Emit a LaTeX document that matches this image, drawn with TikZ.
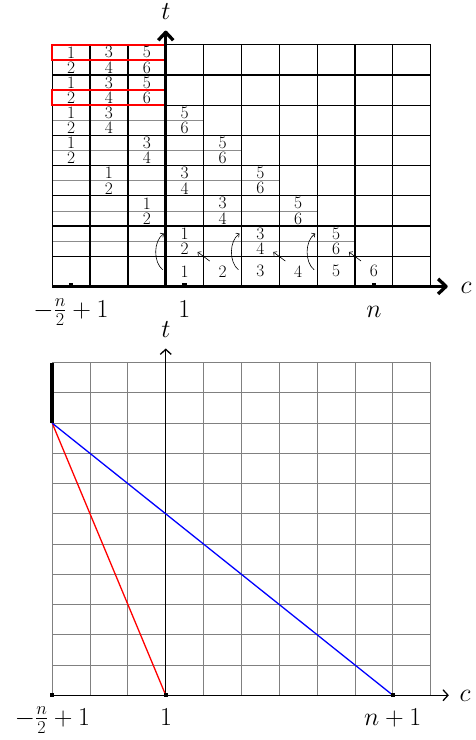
\RequirePackage{fix-cm}
\documentclass[tikz,border=0pt]{standalone}
\usetikzlibrary{arrows.meta}
\tikzset{
  gridline/.style={line width=1.2bp, black},
  midline/.style={line width=0.8bp, black!45},
  redbox/.style={draw=red, line width=1.5bp},
  cell/.style={inner sep=0pt, font=\fontsize{17.5}{20}\selectfont},
  lab/.style={inner sep=0pt, font=\fontsize{26}{30}\selectfont},
  thickaxis/.style={line width=3.3bp, line join=round, -{Straight Barb[length=8bp,width=15bp,line join=round]}},
  thinaxis/.style={line width=1.3bp, -{Straight Barb[length=5bp,width=11bp]}},
  tickmark/.style={fill=black, inner sep=0pt, minimum size=4.5bp},
  smallarrow/.style={line width=0.6bp, -{Straight Barb[length=2.5bp,width=5bp]}},
  lgrid/.style={line width=0.9bp, black!50},
}
\begin{document}
\begin{tikzpicture}[x=1bp,y=-1bp]
\useasboundingbox (0,0) rectangle (476,740);
% ---------------- upper diagram ----------------
\begin{scope}[shift={(52.2bp,-44.8bp)}, x=37.85bp, y=-30.2bp]
  \foreach \j/\e in {0/3,1/3,2/4,3/5,4/6,5/7,6/8}
    \draw[midline] (0,\j+0.5) -- (\e,\j+0.5);
  \foreach \i in {0,...,10} \draw[gridline] (\i,0) -- (\i,8);
  \foreach \j in {0,...,7} \draw[gridline] (0,\j) -- (10,\j);
  \draw[line width=2.6bp] (0,6) -- (10,6);
  \draw[redbox] (0,0) rectangle (3,0.5);
  \draw[redbox] (0,1.5) rectangle (3,2);
  \foreach \j/\a/\b/\c in {0/0/1/2, 1/0/1/2, 2/0/1/3, 3/0/2/4, 4/1/3/5, 5/2/4/6, 6/3/5/7} {
    \node[cell] (f\j-1) at (\a+0.5,\j+0.25) {1};
    \node[cell] (f\j-2) at (\a+0.5,\j+0.75) {2};
    \node[cell] (f\j-3) at (\b+0.5,\j+0.25) {3};
    \node[cell] (f\j-4) at (\b+0.5,\j+0.75) {4};
    \node[cell] (f\j-5) at (\c+0.5,\j+0.25) {5};
    \node[cell] (f\j-6) at (\c+0.5,\j+0.75) {6};
  }
  \foreach \k in {1,...,6} \node[cell] (s\k) at (\k+2.5,7.5) {\k};
  % arrows
  \foreach \xb/\m in {4/a,6/b,8/c} {
    \coordinate (sa\m) at (\xb+0.16,7.16);
    \coordinate (sb\m) at (\xb-0.16,6.86);
    \draw[smallarrow] (sa\m) -- (sb\m);
  }
  \foreach \xb/\m in {3/a,5/b,7/c} {
    \coordinate (ca\m) at (\xb-0.08,7.45);
    \coordinate (cb\m) at (\xb-0.05,6.25);
    \draw[smallarrow] (ca\m) .. controls (\xb-0.33,7.2) and (\xb-0.33,6.5) .. (cb\m);
  }
  % axes
  \coordinate (uo) at (0,8);
  \coordinate (ub) at (3,8);
  \coordinate (ut) at (3,-0.47);
  \coordinate (uc) at (10.45,8);
  \draw[thickaxis] (ub) -- (ut);
  \draw[thickaxis] (uo) -- (uc);
  \node[tickmark] (uk1) at (0.5,7.95) {};
  \node[tickmark] (uk2) at (3.5,7.95) {};
  \node[tickmark] (uk3) at (8.5,7.95) {};
\end{scope}
\node[lab, anchor=base] (utl) at (166,20) {$t$};
\node[lab] (ucl) at (466,287.5) {$c$};
\node[lab, anchor=base] (ul1) at (71,317) {$-\frac{n}{2}+1$};
\node[lab, anchor=base] (ul2) at (184.3,317) {$1$};
\node[lab, anchor=base] (ul3) at (374,317) {$n$};
% ---------------- lower diagram ----------------
\begin{scope}[shift={(52.2bp,-362.7bp)}, x=37.85bp, y=-30.23bp]
  \foreach \i in {0,...,10} \draw[lgrid] (\i,0) -- (\i,11);
  \foreach \j in {0,...,10} \draw[lgrid] (0,\j) -- (10,\j);
  \coordinate (lo) at (0,11);
  \coordinate (lb) at (3,11);
  \coordinate (ln) at (9,11);
  \coordinate (lt) at (3,-0.47);
  \coordinate (lc) at (10.48,11);
  \coordinate (ltop) at (0,0);
  \coordinate (lmid) at (0,2);
  \draw[thinaxis] (lb) -- (lt);
  \draw[thinaxis] (lo) -- (lc);
  \draw[line width=3.6bp] (ltop) -- (lmid);
  \draw[red, line width=1.3bp] (lmid) -- (lb);
  \draw[blue, line width=1.3bp] (lmid) -- (ln);
  \node[tickmark] (lk1) at (lo) {};
  \node[tickmark] (lk2) at (lb) {};
  \node[tickmark] (lk3) at (ln) {};
\end{scope}
\node[lab, anchor=base] (ltl) at (166,337) {$t$};
\node[lab] (lcl) at (465,696) {$c$};
\node[lab, anchor=base] (ll1) at (52.5,725) {$-\frac{n}{2}+1$};
\node[lab, anchor=base] (ll2) at (166,725) {$1$};
\node[lab, anchor=base] (ll3) at (392.7,725) {$n+1$};
\end{tikzpicture}
\end{document}
